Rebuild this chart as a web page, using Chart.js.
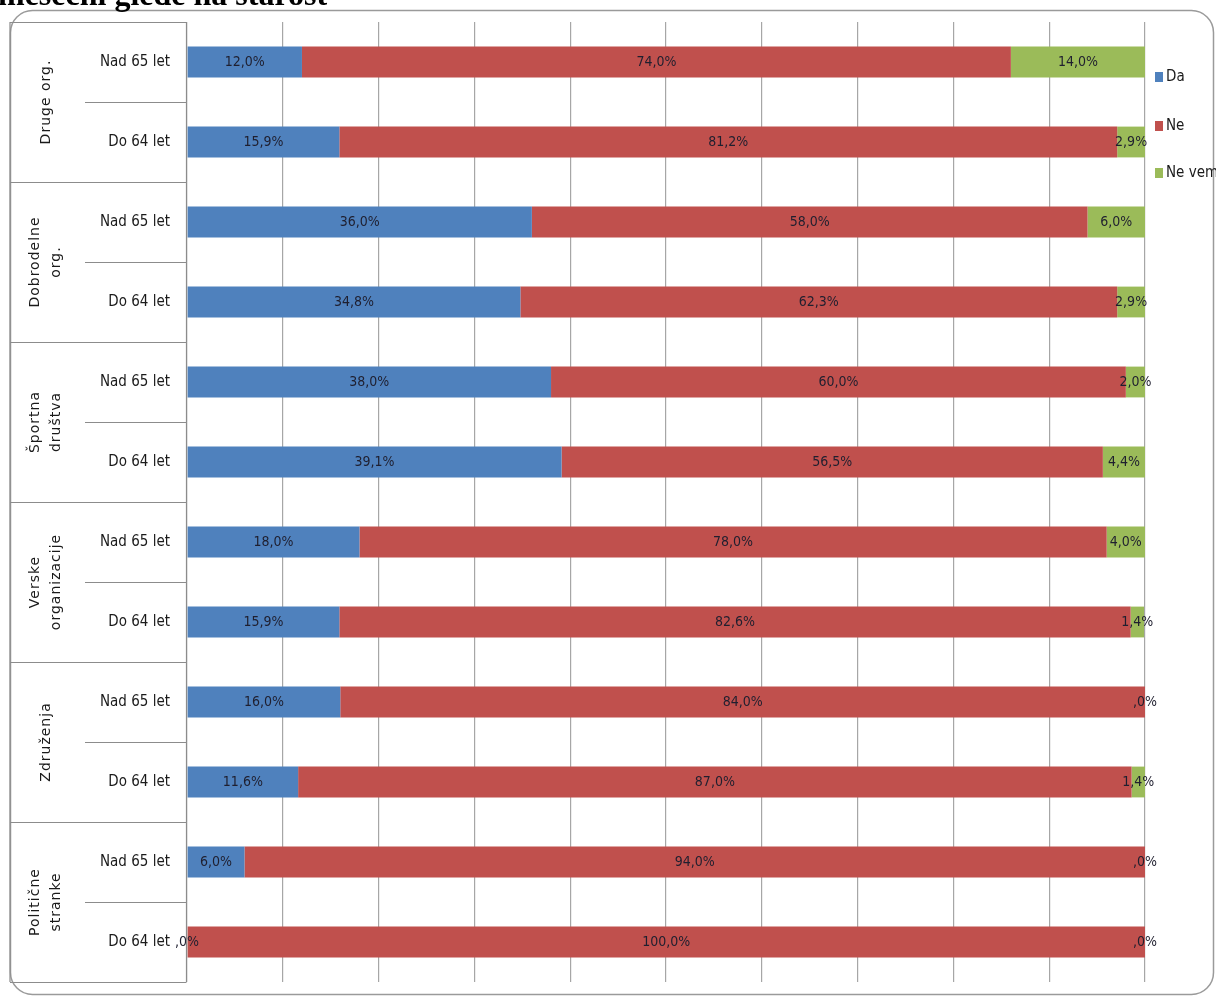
<!DOCTYPE html>
<html>
<head>
<meta charset="utf-8">
<script src="https://cdn.jsdelivr.net/npm/chart.js@4/dist/chart.umd.min.js"></script>
<style>
  html, body { margin: 0; padding: 0; background: #fff; }
  #wrap { width: 1216px; height: 996px; position: relative; }
</style>
</head>
<body>
<div id="wrap"><canvas id="chart" width="1216" height="996"></canvas></div>
<script>
const groups = ["Druge org.", "Dobrodelne org.", "Športna društva", "Verske organizacije", "Združenja", "Politične stranke"];
const groupLines = [["Druge org."], ["Dobrodelne", "org."], ["Športna", "društva"], ["Verske", "organizacije"], ["Združenja"], ["Politične", "stranke"]];
const ageLabels = ["Nad 65 let", "Do 64 let"];

const rowLabels = [];
groups.forEach(g => ageLabels.forEach(a => rowLabels.push(g + " – " + a)));

const da    = [12.0, 15.9, 36.0, 34.8, 38.0, 39.1, 18.0, 15.9, 16.0, 11.6, 6.0, 0.0];
const ne    = [74.0, 81.2, 58.0, 62.3, 60.0, 56.5, 78.0, 82.6, 84.0, 87.0, 94.0, 100.0];
const neVem = [14.0, 2.9, 6.0, 2.9, 2.0, 4.4, 4.0, 1.4, 0.0, 1.4, 0.0, 0.0];

const seriesNames = ["Da", "Ne", "Ne vem"];
const seriesColors = ["#4F81BD", "#C0504D", "#9BBB59"];

const narrow = "'Liberation Sans Narrow', 'DejaVu Sans Condensed', 'Roboto Condensed', sans-serif";

function fmt(v) {
  // Slovenian style: decimal comma, zero shown as ",0%"
  if (v === 0) return ",0%";
  return v.toFixed(1).replace(".", ",") + "%";
}

const framePlugin = {
  id: "frame",
  beforeDraw(chart) {
    const ctx = chart.ctx;
    ctx.save();
    ctx.fillStyle = "#fff";
    ctx.fillRect(0, 0, chart.width, chart.height);
    // rounded outer border
    ctx.strokeStyle = "#9a9a9a";
    ctx.lineWidth = 1.5;
    ctx.beginPath();
    ctx.roundRect(10.5, 10.5, 1203, 984, 22);
    ctx.stroke();
    // cut-off title at the very top
    ctx.fillStyle = "#000";
    ctx.font = "bold 32px 'Liberation Serif', 'DejaVu Serif', serif";
    ctx.textBaseline = "alphabetic";
    ctx.fillText("mesečni glede na starost", -2, 5);
    ctx.restore();
  },
  afterDraw(chart) {
    const ctx = chart.ctx;
    const y = chart.scales.y;
    const area = chart.chartArea;
    const left = 10, mid = 85, right = area.left - 0.5;
    const band = (y.getPixelForValue(1) - y.getPixelForValue(0));
    ctx.save();
    ctx.strokeStyle = "#8c8c8c";
    ctx.lineWidth = 1.2;
    ctx.beginPath();
    ctx.moveTo(left, area.top); ctx.lineTo(left, area.bottom);
    ctx.moveTo(right, area.top); ctx.lineTo(right, area.bottom);
    for (let i = 0; i <= rowLabels.length; i++) {
      const yy = Math.round(area.top + i * band) + 0.5;
      ctx.moveTo(i % 2 === 0 ? left : mid, yy);
      ctx.lineTo(right, yy);
    }
    ctx.stroke();

    // age labels
    ctx.fillStyle = "#1a1a1a";
    ctx.font = "15px " + narrow;
    ctx.textAlign = "right";
    ctx.textBaseline = "middle";
    rowLabels.forEach((_, i) => {
      ctx.fillText(ageLabels[i % 2], 170, y.getPixelForValue(i));
    });

    // rotated group labels
    ctx.font = "14px 'DejaVu Sans', sans-serif";
    ctx.textAlign = "center";
    groupLines.forEach((lines, g) => {
      const cy = area.top + (g * 2 + 1) * band;
      ctx.save();
      ctx.translate(46, cy);
      ctx.rotate(-Math.PI / 2);
      const lh = 21;
      lines.forEach((t, k) => {
        const off = (k - (lines.length - 1) / 2) * lh;
        ctx.letterSpacing = "1px";
        ctx.fillText(t, 0, off);
      });
      ctx.restore();
    });

    // legend
    ctx.font = "15px " + narrow;
    ctx.textAlign = "left";
    const legY = [77, 126, 173];
    seriesNames.forEach((n, i) => {
      ctx.fillStyle = seriesColors[i];
      ctx.fillRect(1155, legY[i] - 5, 8, 10);
      ctx.fillStyle = "#1a1a1a";
      ctx.fillText(n, 1166, legY[i]);
    });
    ctx.restore();
  },
  afterDatasetsDraw(chart) {
    const ctx = chart.ctx;
    ctx.save();
    ctx.font = "14px " + narrow;
    ctx.fillStyle = "#1f1f2f";
    ctx.textAlign = "center";
    ctx.textBaseline = "middle";
    chart.data.datasets.forEach((ds, di) => {
      chart.getDatasetMeta(di).data.forEach((bar, i) => {
        const cx = (bar.x + bar.base) / 2;
        ctx.fillText(fmt(ds.data[i]), cx, bar.y);
      });
    });
    ctx.restore();
  }
};

new Chart(document.getElementById("chart"), {
  type: "bar",
  data: {
    labels: rowLabels,
    datasets: [
      { label: seriesNames[0], data: da, backgroundColor: seriesColors[0] },
      { label: seriesNames[1], data: ne, backgroundColor: seriesColors[1] },
      { label: seriesNames[2], data: neVem, backgroundColor: seriesColors[2] }
    ]
  },
  options: {
    indexAxis: "y",
    responsive: false,
    animation: false,
    devicePixelRatio: 1,
    layout: { padding: { left: 187, right: 71, top: 22, bottom: 14 } },
    datasets: { bar: { barPercentage: 1, categoryPercentage: 0.385, borderWidth: 0 } },
    plugins: { legend: { display: false }, tooltip: { enabled: false }, title: { display: false } },
    scales: {
      x: {
        stacked: true, min: 0, max: 100,
        ticks: { display: false, stepSize: 10 },
        grid: { color: "#a6a6a6", lineWidth: 1.2, drawTicks: false },
        border: { display: false }
      },
      y: {
        stacked: true,
        ticks: { display: false },
        grid: { display: false, drawTicks: false },
        border: { display: false }
      }
    }
  },
  plugins: [framePlugin]
});
</script>
</body>
</html>
